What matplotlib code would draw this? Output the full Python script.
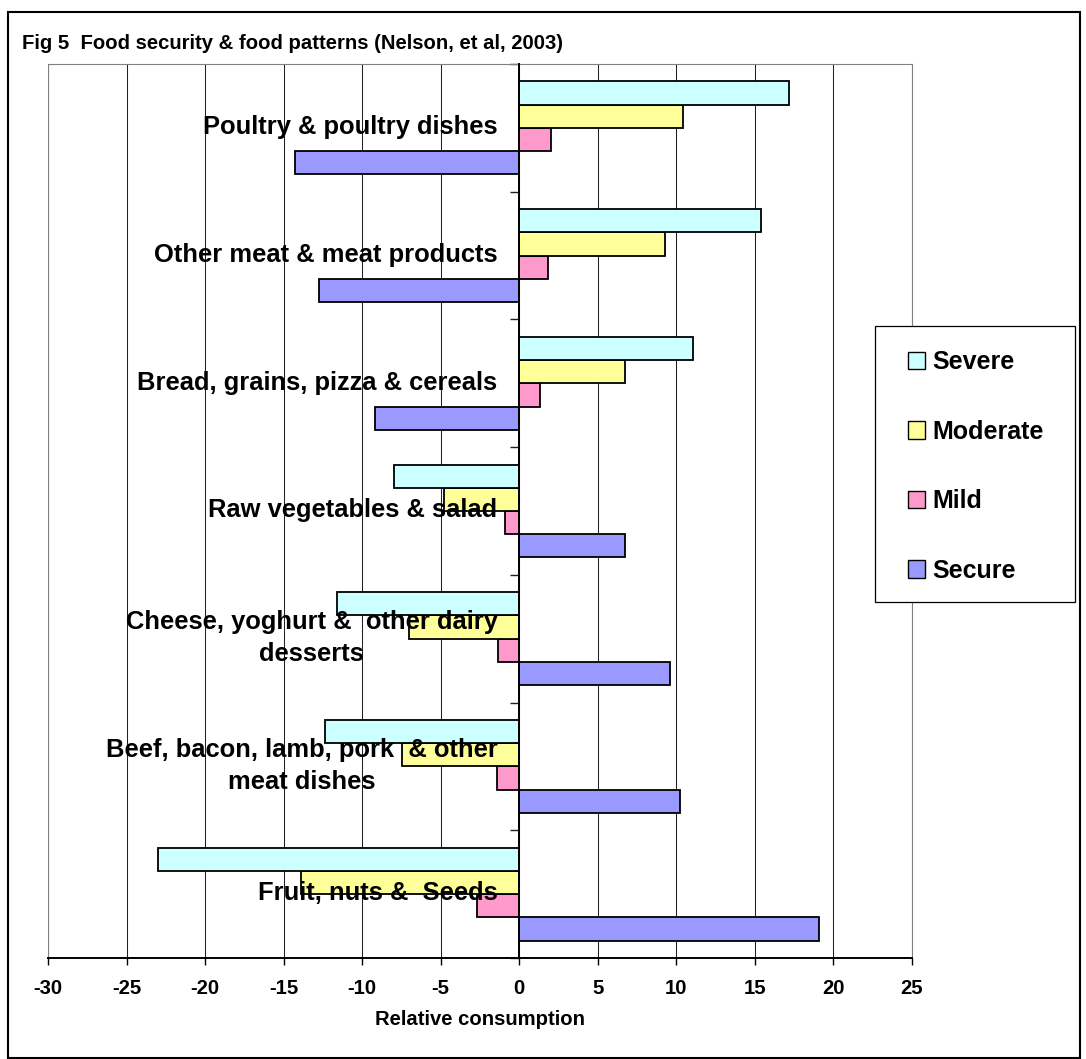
import matplotlib
matplotlib.use("Agg")
import matplotlib.pyplot as plt
from matplotlib.patches import Rectangle, Patch
import numpy as np

# ---- data -------------------------------------------------------------
categories = [
    "Fruit, nuts &  Seeds",
    "Beef, bacon, lamb, pork  & other\nmeat dishes",
    "Cheese, yoghurt &  other dairy\ndesserts",
    "Raw vegetables & salad",
    "Bread, grains, pizza & cereals",
    "Other meat & meat products",
    "Poultry & poultry dishes",
]
series_names = ["Secure", "Mild", "Moderate", "Severe"]
secure = [19.1, 10.25, 9.6, 6.7, -9.2, -12.75, -14.3]
mild = [-2.7, -1.4, -1.35, -0.9, 1.3, 1.8, 2.0]
moderate = [-13.9, -7.45, -7.0, -4.8, 6.7, 9.25, 10.4]
severe = [-23.0, -12.35, -11.6, -8.0, 11.05, 15.4, 17.2]
series_values = [secure, mild, moderate, severe]
series_colors = ["#9999FF", "#FF99CC", "#FFFF99", "#CCFFFF"]
x_ticks = [-30, -25, -20, -15, -10, -5, 0, 5, 10, 15, 20, 25]

title = "Fig 5  Food security & food patterns (Nelson, et al, 2003)"
x_label = "Relative consumption"

# ---- styling ----------------------------------------------------------
plt.rcParams["font.family"] = ["Liberation Sans", "DejaVu Sans"]
plt.rcParams["font.weight"] = "bold"

W, H, DPI = 1086, 1059, 100
fig = plt.figure(figsize=(W / DPI, H / DPI), dpi=DPI)
fig.patch.set_facecolor("white")


def fx(px):
    return px / W


def fy(py):
    return 1 - py / H


# outer frame of the figure
fig.patches.append(Rectangle((fx(8), fy(1058)), fx(1080) - fx(8), fy(12) - fy(1058),
                             transform=fig.transFigure, fill=False,
                             edgecolor="black", linewidth=1.5, zorder=0))

ax = fig.add_axes([fx(48), fy(958), fx(912) - fx(48), fy(64) - fy(958)])

n_series = len(series_names)
bar_h = 1.0 / (n_series + 1.5)
y_pos = np.arange(len(categories))

handles = []
for i, (name, vals, col) in enumerate(zip(series_names, series_values, series_colors)):
    offset = (i - (n_series - 1) / 2) * bar_h
    ax.barh(y_pos + offset, vals, height=bar_h, color=col,
            edgecolor="black", linewidth=1.3, zorder=3)
    handles.append(Patch(facecolor=col, edgecolor="black", linewidth=1.0, label=name))

ax.set_xlim(-30, 25)
ax.set_ylim(-0.5, len(categories) - 0.5)

# vertical gridlines
ax.set_xticks(x_ticks)
ax.set_xticklabels([str(t) for t in x_ticks], fontsize=14.6, fontweight="bold")
ax.grid(axis="x", color="#222222", linewidth=0.75, zorder=1)
ax.set_axisbelow(True)

# y axis sits at zero with outward ticks at the category boundaries
ax.spines["left"].set_position(("data", 0))
ax.spines["left"].set_color("black")
ax.spines["left"].set_linewidth(1.4)
ax.spines["left"].set_zorder(4)
ax.set_yticks(np.arange(-0.5, len(categories), 1.0))
ax.set_yticklabels([])
ax.tick_params(axis="y", direction="out", length=6.2, width=1.0, color="#222222")

ax.spines["bottom"].set_color("black")
ax.spines["bottom"].set_linewidth(1.4)
ax.tick_params(axis="x", direction="out", length=5, width=1.0, pad=10)
for side in ("top", "right"):
    ax.spines[side].set_color("#808080")
    ax.spines[side].set_linewidth(0.8)
ax.axvline(-30, color="#808080", linewidth=0.8, zorder=2)

ax.set_xlabel(x_label, fontsize=14.6, fontweight="bold", labelpad=9)

# category names drawn just left of the zero axis
for yp, name in zip(y_pos, categories):
    ax.annotate(name, xy=(0, yp), xytext=(-15.6, 0.5), textcoords="offset points",
                ha="right", va="center", multialignment="center",
                fontsize=18.4, fontweight="bold", linespacing=1.4, zorder=6)

# title
fig.text(fx(22), fy(49), title, fontsize=14.6, fontweight="bold",
         ha="left", va="baseline")

# legend frame and entries (Severe listed first)
fig.patches.append(Rectangle((fx(875), fy(602)), fx(1075) - fx(875), fy(326) - fy(602),
                             transform=fig.transFigure, facecolor="white",
                             edgecolor="black", linewidth=0.9, zorder=5))
leg = fig.legend(handles=handles[::-1], loc="center left",
                 bbox_to_anchor=(fx(908), fy(466.5)), frameon=False,
                 fontsize=18, borderpad=0, borderaxespad=0,
                 handlelength=0.68, handleheight=0.68, handletextpad=0.3,
                 labelspacing=1.82)
leg.set_zorder(6)
for t in leg.get_texts():
    t.set_fontweight("bold")

fig.savefig("out.png", dpi=DPI, facecolor="white")
